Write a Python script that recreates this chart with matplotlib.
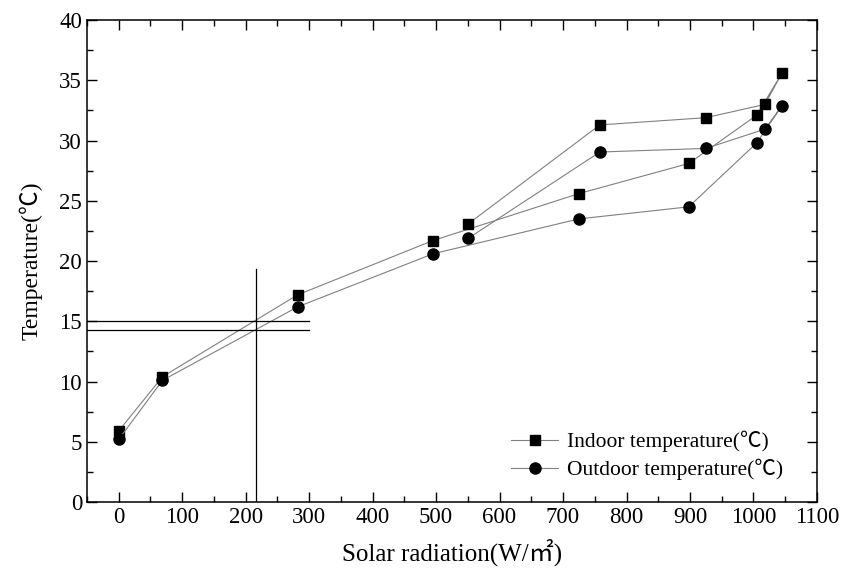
import matplotlib
matplotlib.use("Agg")
import matplotlib.pyplot as plt
from matplotlib.ticker import MultipleLocator

plt.rcParams['font.family'] = ['Liberation Serif', 'Noto Sans CJK SC']

# solar radiation (W/m2), in the order the measurements were taken
radiation = [0, 69, 282, 495, 725, 898, 1005, 1045, 1018, 925, 758, 551]
indoor = [5.9, 10.4, 17.2, 21.7, 25.6, 28.1, 32.1, 35.6, 33.0, 31.9, 31.3, 23.1]
outdoor = [5.2, 10.1, 16.2, 20.6, 23.5, 24.5, 29.8, 32.9, 30.95, 29.35, 29.05, 21.9]

# reading guide lines
guide_x = 216
guide_x_top = 19.3
guide_y = [15.0, 14.3]
guide_y_end = 300

fig = plt.figure(figsize=(8.41, 5.71), dpi=100)
ax = fig.add_axes([0.1034, 0.1208, 0.868, 0.844])

ax.plot(radiation, indoor, color='#808080', lw=0.8, marker='s', ms=7,
        mfc='black', mec='black', label='Indoor temperature(℃)')
ax.plot(radiation, outdoor, color='#808080', lw=0.8, marker='o', ms=8,
        mfc='black', mec='black', label='Outdoor temperature(℃)')

ax.plot([guide_x, guide_x], [0, guide_x_top], color='black', lw=0.9)
for gy in guide_y:
    ax.plot([-50, guide_y_end], [gy, gy], color='black', lw=0.9)

ax.set_xlim(-50, 1100)
ax.set_ylim(0, 40)
ax.xaxis.set_major_locator(MultipleLocator(100))
ax.xaxis.set_minor_locator(MultipleLocator(50))
ax.yaxis.set_major_locator(MultipleLocator(5))
ax.yaxis.set_minor_locator(MultipleLocator(2.5))
ax.tick_params(which='both', direction='in', top=True, right=True, labelsize=16.5, width=1)
ax.tick_params(which='major', length=7)
ax.tick_params(which='minor', length=4)
for s in ax.spines.values():
    s.set_linewidth(1.1)

ax.set_xlabel('Solar radiation(W/㎡)', fontsize=18, labelpad=8)
ax.set_ylabel('Temperature(℃)', fontsize=17, labelpad=12)

ax.legend(loc='lower right', bbox_to_anchor=(0.98, 0.005), frameon=False,
          fontsize=15.5, handlelength=2.2, handletextpad=0.4, labelspacing=0.3)

plt.savefig('out.png', dpi=100)
